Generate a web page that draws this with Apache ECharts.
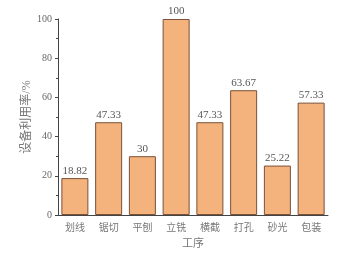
<!DOCTYPE html>
<html><head><meta charset="utf-8">
<script src="https://cdn.jsdelivr.net/npm/echarts@6/dist/echarts.min.js"></script>
<style>html,body{margin:0;padding:0;background:#fff}#c{width:356px;height:258px}</style>
</head><body><div id="c"></div>
<script>
const categories = ['划线','锯切','平刨','立铣','横截','打孔','砂光','包装'];
const values = [18.82, 47.33, 30, 100, 47.33, 63.67, 25.22, 57.33];
const valueLabels = ['18.82','47.33','30','100','47.33','63.67','25.22','57.33'];
const yTicks = [0, 20, 40, 60, 80, 100];

const FONT = '"Liberation Serif","DejaVu Serif","Noto Sans CJK SC",serif';
const chart = echarts.init(document.getElementById('c'), null, {renderer:'canvas'});
chart.setOption({
  animation:false,
  grid:{left:58, right:28, top:19, bottom:43},
  xAxis:{
    type:'category', data:categories,
    name:'工序', nameLocation:'middle', nameGap:24,
    nameTextStyle:{color:'#777', fontSize:11, fontFamily:FONT},
    axisLine:{lineStyle:{color:'#444', width:1}},
    axisTick:{alignWithLabel:true, length:3, lineStyle:{color:'#444'}},
    axisLabel:{color:'#777', fontSize:10, margin:8, fontFamily:FONT}
  },
  yAxis:{
    type:'value', min:0, max:100, interval:20,
    name:'设备利用率/%', nameLocation:'middle', nameGap:25, nameRotate:90,
    nameMoveOverlap:false,
    nameTextStyle:{color:'#777', fontSize:12, fontFamily:FONT},
    axisLine:{show:true, lineStyle:{color:'#444', width:1}},
    axisTick:{show:true, length:3, lineStyle:{color:'#444'}},
    minorTick:{show:true, splitNumber:2, length:2, lineStyle:{color:'#444'}},
    splitLine:{show:false},
    axisLabel:{color:'#666', fontSize:10, margin:6, fontFamily:FONT,
      formatter:v => yTicks.includes(v) ? String(v) : ''}
  },
  series:[{
    type:'bar', data:values, barWidth:'80%',
    itemStyle:{color:'#F4B27C', borderColor:'#7a5238', borderWidth:1},
    label:{show:true, position:'top', distance:2, color:'#555', fontSize:11, fontFamily:FONT,
      formatter:p => valueLabels[p.dataIndex]}
  }]
});
</script></body></html>
